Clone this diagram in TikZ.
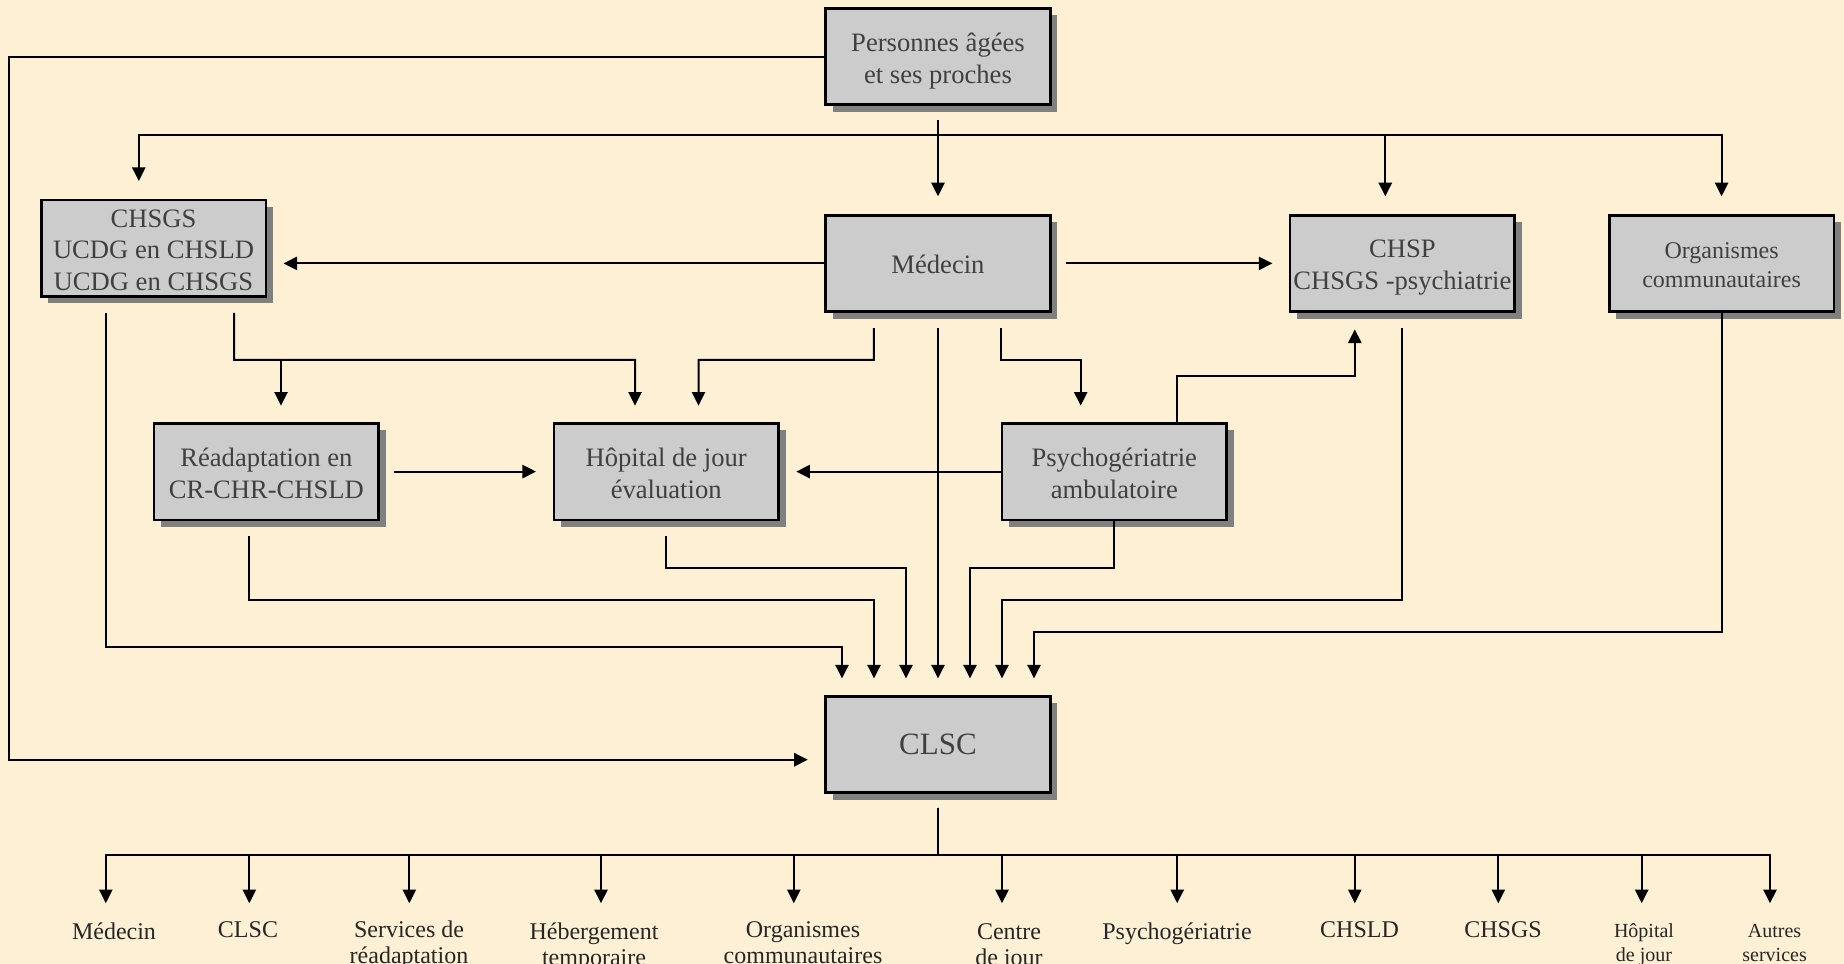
\documentclass[tikz,border=0pt]{standalone}
\usepackage{fontspec}
\setmainfont{Liberation Serif}
\usetikzlibrary{arrows.meta,shadows}
\definecolor{bgc}{RGB}{254,240,213}
\definecolor{boxfill}{RGB}{204,204,204}
\definecolor{shadowc}{RGB}{128,128,128}
\definecolor{txt}{RGB}{64,64,64}
\newcommand\tstr[1]{\rule{0pt}{#1}}
\newcommand\bstr{\rule[-3pt]{0pt}{0pt}}
\begin{document}
\begin{tikzpicture}[x=0.5pt,y=-0.5pt,
 box/.style={draw=black,line width=1.3pt,fill=boxfill,minimum width=112.3pt,minimum height=48.2pt,inner xsep=1pt,inner ysep=0pt,align=center,text=txt,font=\fontsize{13.3}{16}\selectfont,drop shadow={shadow xshift=3.5pt,shadow yshift=-3.5pt,fill=shadowc,opacity=1}},
 conn/.style={line width=1pt,draw=black},
 arr/.style={conn,-{Triangle[width=6.6pt,length=6.8pt]}},
 lab/.style={anchor=north,inner sep=0pt,align=center,text=black!85,font=\fontsize{12}{13}\selectfont},
 slab/.style={lab,font=\fontsize{10}{12.3}\selectfont},
]
\useasboundingbox (0,0) rectangle (1844,964);
\fill[bgc] (0,0) rectangle (1844,964);

\node[box] (pers) at (938,56.5) {\tstr{13.5pt}Personnes âgées\\et ses proches\bstr};
\node[box,font=\fontsize{13.3}{15.8}\selectfont] (chsgs) at (153.5,248.2) {\tstr{13.5pt}CHSGS\\UCDG en CHSLD\\UCDG en CHSGS\bstr};
\node[box] (med) at (938,263.4) {\tstr{13.5pt}Médecin\bstr};
\node[box] (chsp) at (1402.4,263.4) {\tstr{13.5pt}CHSP\\CHSGS -psychiatrie\bstr};
\node[box,font=\fontsize{12}{14.7}\selectfont] (org) at (1721.6,263.4) {\tstr{12.7pt}Organismes\\communautaires\bstr};
\node[box] (read) at (266.4,471.6) {\tstr{13.5pt}Réadaptation en\\CR-CHR-CHSLD\bstr};
\node[box] (hop) at (666.2,471.6) {\tstr{13.5pt}Hôpital de jour\\évaluation\bstr};
\node[box] (psy) at (1114.3,471.6) {\tstr{13.5pt}Psychogériatrie\\ambulatoire\bstr};
\node[box,font=\fontsize{15.5}{18}\selectfont] (clsc) at (938,744.4) {\tstr{13.3pt}CLSC\bstr};

% Personnes -> CLSC (left loop)
\draw[arr] (pers.west) -| (9.4,400) |- ([xshift=-8.3pt,yshift=-7.65pt]clsc.west);

% top bus
\draw[arr] ([yshift=-7pt]pers.south) -- ([yshift=8.8pt]med.north);
\draw[arr] ([yshift=-7pt]pers.south) |- (138.8,135.2) -- ([xshift=-7.35pt,yshift=8.85pt]chsgs.north);
\draw[arr] ([yshift=-7pt]pers.south) |- (1385.3,135.2) -- ([xshift=-8.55pt,yshift=8.8pt]chsp.north);
\draw[arr] ([yshift=-7pt]pers.south) |- (1721.6,135.2) -- ([yshift=8.8pt]org.north);

% Medecin sides
\draw[arr,shorten >=8.2pt] (med.west) -- (chsgs.east |- med.west);
\draw[arr,shorten <=7pt,shorten >=8.2pt] (med.east) -- (chsp.west |- med.east);

% Medecin bottom
\draw[arr] ([xshift=-32.1pt,yshift=-7.65pt]med.south) |- (698.5,359.9) -- ([xshift=16.15pt,yshift=8.25pt]hop.north);
\draw[arr] ([yshift=-7.65pt]med.south) -- ([yshift=8.25pt]clsc.north);
\draw[arr] ([xshift=31.4pt,yshift=-7.65pt]med.south) |- (1080.7,359.9) -- ([xshift=-16.8pt,yshift=8.25pt]psy.north);

% CHSGS bottom
\draw[arr] ([xshift=40.25pt,yshift=-7.6pt]chsgs.south) |- (635,359.9) -- ([xshift=-15.6pt,yshift=8.25pt]hop.north);
\draw[arr] ([xshift=40.25pt,yshift=-7.6pt]chsgs.south) |- (281,359.9) -- ([xshift=7.3pt,yshift=8.25pt]read.north);
\draw[arr] ([xshift=-23.85pt,yshift=-7.6pt]chsgs.south) |- (842,646.8) -- ([xshift=-48pt,yshift=8.25pt]clsc.north);

% middle row horizontals
\draw[arr,shorten <=7pt,shorten >=8.3pt] (read.east) -- (hop.west);
\draw[arr,shorten >=8.25pt] (psy.west) -- (hop.east);

% Psycho -> CHSP
\draw[arr] ([xshift=31.45pt]psy.north) |- (1354.8,376.3) -- ([xshift=-23.8pt,yshift=-8.25pt]chsp.south);

% into CLSC
\draw[arr] ([yshift=-7.65pt]chsp.south) |- (1002,599.8) -- ([xshift=32pt,yshift=8.25pt]clsc.north);
\draw[arr] (org.south) |- (1034,631.5) -- ([xshift=48pt,yshift=8.25pt]clsc.north);
\draw[arr] ([xshift=-8.55pt,yshift=-7.6pt]read.south) |- (874,599.8) -- ([xshift=-32pt,yshift=8.25pt]clsc.north);
\draw[arr] ([yshift=-7.6pt]hop.south) |- (906,567.5) -- ([xshift=-16pt,yshift=8.25pt]clsc.north);
\draw[arr] (psy.south) |- (970,567.5) -- ([xshift=16pt,yshift=8.25pt]clsc.north);

% bottom labels
\node[lab] (b1) at (114,921) {\strut Médecin};
\node[lab] (b2) at (248,918.8) {\strut CLSC};
\node[lab] (b3) at (409,918.8) {\strut Services de\\réadaptation};
\node[lab] (b4) at (594,921) {\strut Hébergement\\temporaire};
\node[lab] (b5) at (803,918.8) {\strut Organismes\\communautaires};
\node[lab] (b6) at (1009,921) {\strut Centre\\de jour};
\node[lab] (b7) at (1177,921) {\strut Psychogériatrie};
\node[lab] (b8) at (1359.5,918.8) {\strut CHSLD};
\node[lab] (b9) at (1503,918.8) {\strut CHSGS};
\node[slab] (b10) at (1644,919.5) {\strut Hôpital\\de jour};
\node[slab] (b11) at (1774.6,919.5) {\strut Autres\\services};

% CLSC -> bottom
\foreach \x in {105.8,249.3,409.3,601,793.8,1002,1177.2,1354.8,1498.3,1641.7,1770}
  \draw[arr] ([yshift=-7pt]clsc.south) |- (\x,855) -- (\x,903.2);
\end{tikzpicture}
\end{document}
